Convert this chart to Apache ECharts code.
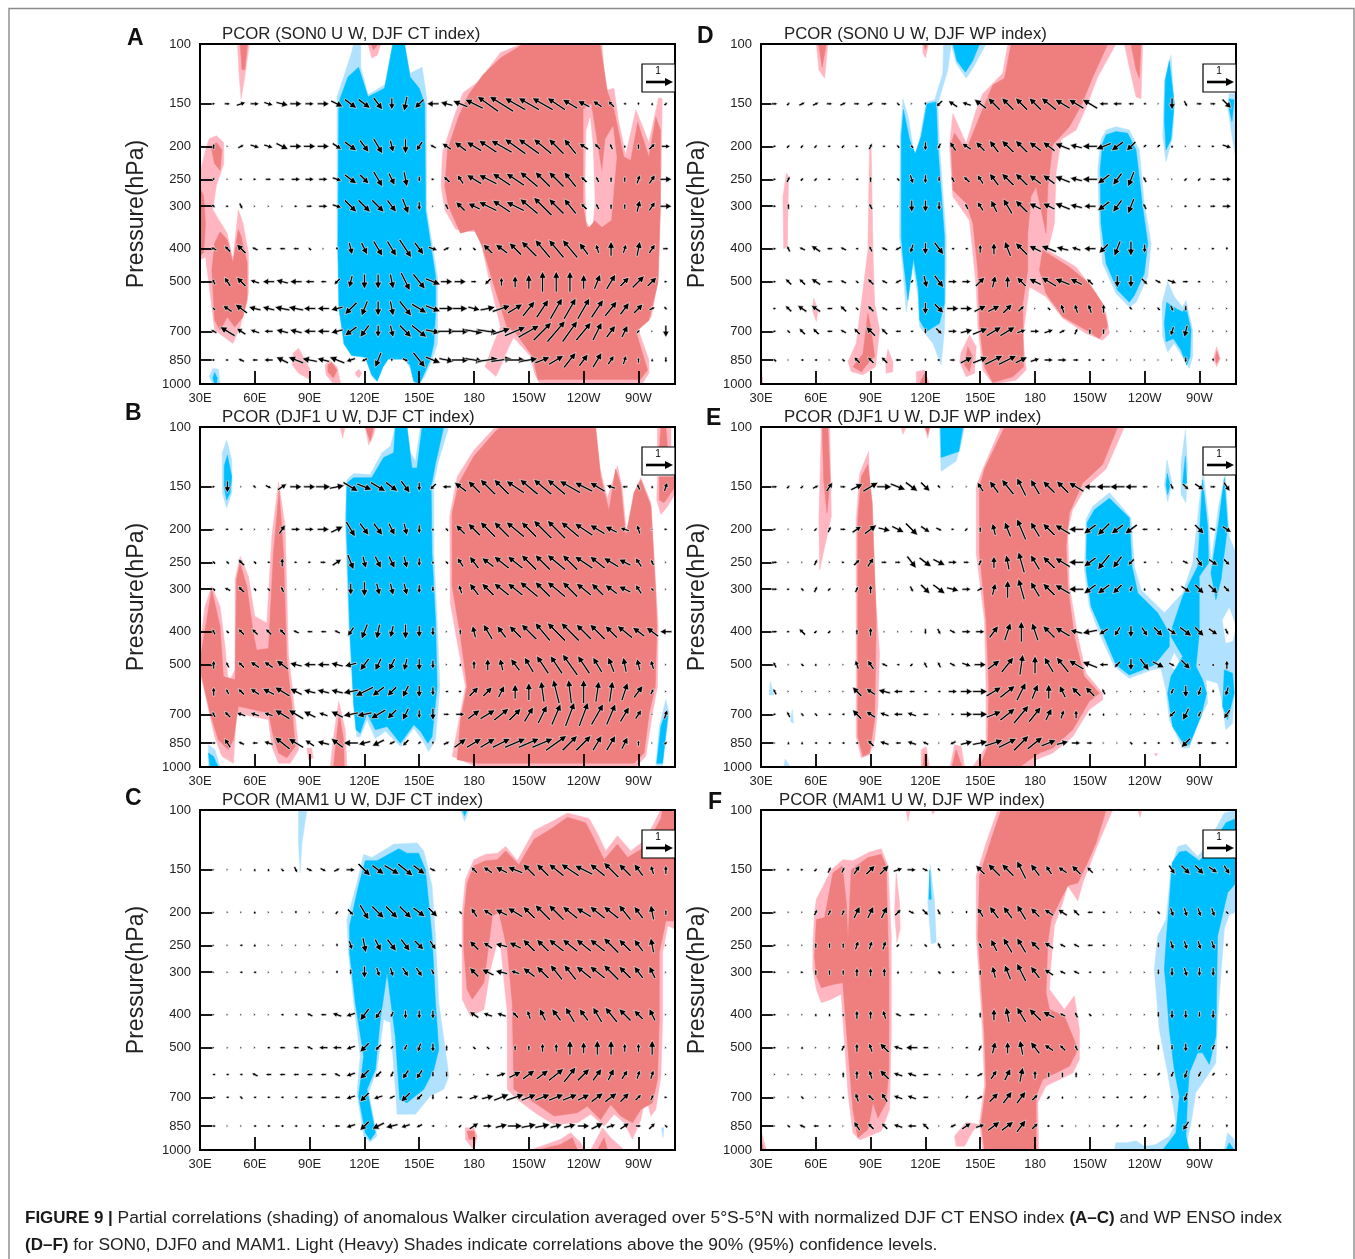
<!DOCTYPE html>
<html><head><meta charset="utf-8">
<style>html,body{margin:0;padding:0;background:#fff}#c{width:1355px;height:1259px}</style>
<script src="https://cdn.jsdelivr.net/npm/echarts@6/dist/echarts.min.js"></script>
</head><body><div id="c"></div>
<script>
const lons=[37.5,45,52.5,60,67.5,75,82.5,90,97.5,105,112.5,120,127.5,135,142.5,150,157.5,165,172.5,180,187.5,195,202.5,210,217.5,225,232.5,240,247.5,255,262.5,270,277.5,285];
const levels=[150,200,250,300,400,500,600,700,850];
const lonTicks=[30,60,90,120,150,180,210,240,270];
const lonTickLabels=['30E','60E','90E','120E','150E','180','150W','120W','90W'];
const pressureTicks=[100,150,200,250,300,400,500,700,850,1000];

// wind vectors: one row per level, flat u,w pairs per longitude (10 = reference vector)
const A_vec=[
[1,0,2,0,3,1,3,0,3,-1,4,-1,4,0,3,0,4,0,4,-2,4,-3,4,-3,3,-4,0,-4,-1,-5,-3,-3,-4,0,-4,1,-5,2,-6,3,-7,5,-8,5,-7,4,-7,4,-7,4,-6,4,-5,3,-4,2,-3,2,-2,2,-1,0,0,-1,0,1,1,1],
[0,2,0,0,2,1,3,-1,3,-1,4,-2,4,0,4,0,4,0,3,-2,4,-3,3,-4,3,-5,1,-4,0,-5,-2,-3,-2,1,-3,2,-4,3,-5,3,-6,4,-7,4,-7,5,-7,5,-6,5,-5,5,-4,5,-3,2,-2,2,-1,2,0,1,0,2,2,2,3,0],
[0,-1,0,0,1,0,1,0,2,0,2,0,3,0,3,0,3,0,3,-1,4,-3,3,-3,3,-5,2,-4,1,-5,0,-2,1,0,-2,2,-2,3,-5,3,-6,3,-6,4,-6,4,-6,5,-5,5,-5,5,-4,5,-2,2,-1,2,0,2,0,2,1,3,2,3,4,0],
[1,-1,1,0,1,-2,0,0,0,0,0,0,1,0,2,0,3,0,3,-1,4,-4,4,-4,4,-4,3,-4,2,-5,0,-3,0,0,-1,2,-3,3,-4,2,-6,3,-6,4,-6,3,-6,5,-6,6,-5,5,-4,5,-2,2,-1,2,0,2,0,2,1,4,2,3,4,0],
[-2,1,-2,2,-3,3,-2,1,-2,0,-2,0,-2,0,-1,1,0,0,0,-1,1,-4,2,-4,3,-5,3,-5,4,-6,3,-4,3,-1,2,1,0,1,-1,1,-3,3,-4,3,-4,4,-5,5,-5,6,-5,6,-5,6,-3,4,-1,3,0,5,1,3,1,5,2,3,2,0],
[-1,2,-2,3,-3,3,-3,1,-4,0,-4,1,-4,0,-3,0,-2,0,-2,-2,-1,-4,0,-5,0,-5,1,-5,3,-6,4,-5,5,-2,4,0,4,0,2,0,-2,-2,0,3,0,4,0,5,0,7,0,7,0,7,0,5,2,5,3,5,3,3,4,4,3,3,1,0],
[-1,1,-3,2,-4,3,-4,1,-4,1,-5,1,-5,1,-4,0,-4,0,-4,-1,-4,-4,-2,-5,0,-5,1,-5,4,-5,5,-3,5,-2,5,0,5,0,4,-1,5,1,6,2,5,3,4,5,4,6,4,7,4,7,4,7,4,6,4,5,3,4,3,3,2,1,1,-1],
[-2,1,-5,3,-3,2,-3,1,-3,0,-4,1,-4,1,-4,0,-4,0,-4,-1,-4,-3,-3,-4,0,-4,1,-4,4,-4,5,-4,5,-1,6,0,6,0,6,-1,7,-1,6,2,7,3,7,4,6,6,6,7,5,7,5,6,3,6,3,4,2,4,1,1,0,0,0,-4],
[1,0,1,0,-2,1,-2,0,-3,0,-4,2,-5,2,-5,1,-4,1,-5,2,-3,-1,-2,-1,-2,-5,0,-1,2,-1,4,-5,5,-2,5,-1,6,0,6,-1,7,1,7,1,7,0,6,1,5,2,5,3,4,5,3,4,3,5,2,3,1,3,0,2,0,1,0,-2]];
const B_vec=[
[1,0,0,-4,0,0,1,-1,2,-1,3,2,4,0,4,0,5,0,5,1,5,-3,5,-2,5,-3,4,-3,3,-4,0,-3,-2,-2,-3,0,-4,3,-4,4,-5,5,-5,5,-6,4,-6,5,-6,5,-6,5,-7,4,-6,3,-5,3,-3,1,-2,0,-1,2,0,1,1,3],
[0,0,1,0,-1,0,0,0,0,0,2,3,3,0,3,0,4,0,4,2,3,-5,3,-4,3,-4,2,-4,1,-4,0,-3,0,1,-1,1,-3,3,-4,4,-5,5,-5,5,-6,5,-5,5,-6,6,-6,6,-6,5,-6,4,-5,3,-4,2,-3,1,-1,3,0,0,1,0],
[-1,1,-1,1,-2,2,-1,1,-1,0,0,3,1,0,1,0,2,0,3,2,2,-5,1,-4,2,-4,2,-4,1,-4,0,-3,0,1,-1,1,-2,3,-3,4,-4,3,-5,4,-5,4,-5,5,-5,5,-6,5,-5,5,-6,4,-5,4,-5,3,-4,2,-2,3,-1,2,0,0],
[-1,1,-2,1,-2,2,-1,1,-1,1,-1,2,0,0,0,0,0,0,0,0,0,-4,0,-5,1,-4,1,-4,1,-4,0,-3,0,-2,0,0,-1,3,-3,4,-4,4,-5,4,-5,4,-6,5,-5,5,-6,5,-5,5,-5,4,-4,4,-4,3,-4,2,-2,3,-1,1,0,0],
[-1,2,-1,1,-2,2,-2,2,-2,2,-2,2,-2,1,-2,0,-2,0,-2,1,-2,-3,-2,-5,-1,-5,-1,-4,0,-5,0,-4,0,-3,0,0,0,2,-1,4,-3,5,-3,4,-4,4,-5,5,-5,6,-6,6,-6,6,-5,5,-5,5,-4,4,-5,4,-4,3,-4,3,-4,0],
[0,3,-1,2,-2,2,-3,2,-3,2,-4,3,-4,1,-4,0,-4,0,-4,1,-4,-1,-3,-4,-2,-4,-2,-4,-1,-4,0,-4,0,-3,0,0,0,1,0,3,0,4,-1,4,-3,4,-3,5,-4,6,-4,6,-5,7,-4,6,-3,5,-2,5,-1,5,-1,4,-1,3,0,0],
[0,3,-1,2,-2,2,-3,2,-4,2,-5,3,-4,2,-4,1,-4,1,-4,1,-5,-1,-6,-3,-4,-3,-3,-3,-2,-4,0,-4,0,-3,-1,0,1,0,3,3,3,3,2,4,0,5,0,6,-1,7,-2,8,-1,8,0,8,1,7,1,7,2,6,3,4,1,2,0,0],
[-1,2,-2,2,-3,1,-3,1,-3,1,-5,3,-5,3,-4,2,-3,1,-4,2,-5,-1,-5,-1,-5,-3,-3,-3,-2,-4,0,-3,0,-4,2,0,3,0,4,3,5,3,5,4,4,4,3,5,3,6,3,7,3,8,3,8,4,7,3,7,3,5,2,3,0,0,1,3],
[-1,0,-2,3,-2,1,-2,0,-3,1,-5,4,-5,3,-3,2,-4,1,-4,3,-5,0,-4,-1,-4,-2,-2,-1,-2,-2,-1,-1,0,-1,2,1,4,3,5,3,5,3,6,3,7,3,7,3,7,3,7,5,5,5,5,5,3,5,3,5,2,4,0,2,0,0,1,1]];
const C_vec=[
[0,0,0,0,0,0,0,1,0,1,-1,1,1,-2,2,-1,2,-1,2,1,3,0,4,-4,4,-3,5,-3,5,-4,4,-3,2,-1,0,0,0,0,-2,2,-3,2,-4,2,-5,2,-4,4,-4,4,-5,4,-6,4,-6,3,-5,4,-5,5,-4,4,-3,4,-1,3,0,3],
[0,0,0,0,0,0,0,1,0,0,0,0,0,-1,0,0,0,0,1,1,2,-2,3,-5,4,-4,4,-4,4,-4,4,-3,3,-3,0,0,-1,1,-2,3,-3,2,-4,2,-5,3,-4,4,-5,5,-5,5,-5,4,-5,3,-5,4,-5,4,-4,5,-3,4,-1,5,0,2],
[0,0,0,0,-1,0,0,1,0,0,0,0,0,0,0,0,0,0,0,-1,1,-3,1,-5,2,-4,3,-4,3,-4,3,-3,2,-3,0,0,-1,1,-3,3,-3,2,-4,1,-4,2,-4,4,-4,4,-5,4,-5,4,-5,4,-5,4,-5,5,-4,4,-3,4,-1,5,0,0],
[0,0,0,0,-1,0,-1,0,0,0,0,0,0,0,0,0,0,0,0,-1,0,-2,0,-4,1,-3,1,-3,2,-3,2,-3,1,-2,0,0,0,0,-3,3,-4,2,-4,1,-3,1,-4,3,-4,4,-4,5,-4,5,-5,4,-5,4,-5,5,-4,4,-3,4,-2,4,0,0],
[0,0,0,0,0,0,0,0,0,0,-1,0,-1,0,-2,1,-2,0,-3,1,-3,-1,-3,-4,-2,-3,-1,-2,0,-3,0,-3,0,-3,0,0,0,0,-3,2,-3,1,-3,1,-2,2,-1,3,-2,4,-3,4,-3,5,-3,4,-3,5,-4,5,-4,4,-3,3,-2,4,0,0],
[0,0,0,0,0,0,0,0,-1,0,-2,0,-2,0,-2,1,-3,0,-3,0,-3,-1,-3,-3,-2,-2,-1,-1,-1,-2,-1,-3,0,-3,0,2,0,0,-1,1,-1,1,0,0,0,2,0,2,0,3,0,3,0,5,0,4,0,5,0,5,0,3,0,3,0,5,0,0],
[-1,0,-1,0,-1,0,-2,1,-2,0,-2,0,-2,0,-2,0,-2,0,-2,1,-3,-1,-3,-3,-2,-2,-1,-2,-2,-3,-2,-3,0,-2,0,-2,0,0,0,0,1,0,3,1,4,2,4,3,4,3,5,4,4,5,4,4,3,4,2,4,2,3,1,3,1,3,0,0],
[-1,0,-1,0,-1,1,-1,0,-1,0,-1,0,-1,0,-2,0,-2,0,-2,0,-3,-1,-3,-3,-3,-1,-2,-1,-3,-3,-2,-2,0,-2,0,1,2,0,3,1,4,1,5,2,6,2,5,2,5,2,5,2,5,2,4,2,4,3,4,3,3,3,2,2,1,2,1,0],
[-1,0,0,0,0,0,-1,0,-1,0,-1,0,-1,0,-1,0,-1,0,-2,0,-3,-1,-3,-3,-4,-2,-4,-1,-3,-1,-2,-1,-1,0,0,0,1,1,3,2,3,0,4,1,5,0,5,1,5,1,4,1,4,1,4,0,4,2,3,1,3,2,2,0,2,2,-1,1]];
const D_vec=[
[2,0,1,1,2,1,2,1,2,0,2,1,2,0,2,1,2,0,-1,1,0,0,0,-1,-2,-2,-3,2,-3,1,-4,3,-4,4,-4,4,-4,4,-4,4,-5,4,-5,3,-5,3,-5,3,-3,0,-3,0,-2,0,-1,0,0,0,0,-4,1,-2,2,0,2,0,3,-3],
[1,0,1,1,1,1,1,1,1,0,1,1,1,0,1,2,1,0,-1,1,-1,1,0,-3,-1,-2,-2,3,-3,2,-3,3,-3,4,-4,4,-4,4,-4,3,-4,3,-5,2,-4,1,-5,0,-5,-2,-4,-3,-3,-3,-1,-1,-1,-1,0,1,0,0,1,0,1,0,3,-1],
[1,0,1,2,1,1,1,1,1,0,0,0,-1,0,0,2,0,0,-1,1,1,-3,0,-3,0,-2,-1,2,-2,2,-2,3,-3,4,-4,4,-4,4,-4,3,-4,3,-5,2,-4,1,-5,0,-4,-3,-3,-4,-2,-5,-1,2,0,0,0,0,1,1,1,1,2,0,3,0],
[1,0,0,2,0,0,0,0,0,0,0,0,0,0,-1,2,0,0,0,0,0,-4,0,-4,0,-3,0,0,-1,2,-2,3,-2,4,-3,5,-4,4,-4,2,-4,2,-5,2,-4,1,-4,0,-4,-3,-3,-4,-2,-5,-1,2,0,0,0,0,1,0,1,0,2,0,3,0],
[1,0,-1,2,-2,1,-3,2,-2,0,-2,1,-1,0,-1,2,-2,1,-2,-1,-1,-3,0,-4,3,-4,-1,0,-1,0,0,3,0,4,-2,5,-4,4,-4,2,-5,2,-4,1,-3,1,-4,0,-3,-3,-2,-5,0,-5,0,-3,0,0,0,0,1,0,0,0,1,0,0,-1],
[1,0,-2,2,-2,2,-3,2,-2,0,-2,1,-1,1,-2,2,-2,1,-2,-1,-1,-1,1,-4,3,-4,3,0,3,0,3,3,1,4,0,4,-3,3,-4,2,-5,3,-5,2,-4,2,-2,2,0,0,0,-4,0,-4,2,-2,2,-1,3,-1,2,0,1,0,0,0,0,0],
[1,0,-2,2,-3,2,-3,2,-2,0,-2,2,-1,1,-2,2,-2,1,-2,0,0,1,0,-4,3,-3,4,0,4,0,4,2,4,2,3,3,2,2,0,0,-1,1,-1,3,-1,3,-1,3,0,3,0,0,1,-1,0,0,-1,1,1,-2,0,-2,0,0,0,0,0,0],
[1,0,-1,1,-2,2,-2,2,-2,0,-2,1,-2,2,-3,3,-2,2,-2,0,-1,0,0,-2,2,-2,3,0,4,1,5,2,5,3,5,3,3,1,3,0,3,1,2,1,1,2,0,2,0,2,0,0,0,0,0,0,0,0,-1,-3,-1,-4,0,0,0,0,0,0],
[-1,1,0,0,-1,0,-1,0,0,0,-1,1,-2,2,-2,2,-2,2,-2,0,-1,0,0,-1,1,0,2,0,4,2,5,2,6,3,6,3,4,2,3,1,3,0,3,0,2,0,1,0,1,0,0,0,0,0,0,0,0,0,0,0,0,-2,0,0,0,-1,0,0]];
const E_vec=[
[2,0,1,1,1,1,2,1,2,3,2,0,4,2,5,3,5,0,5,-2,4,-3,3,-3,1,-1,0,0,0,0,-2,3,-3,4,-4,5,-3,6,-3,5,-4,4,-4,4,-5,3,-4,0,-5,0,-5,0,-4,0,-2,0,0,0,1,-2,2,-2,3,-2,2,0,2,-3],
[1,0,0,0,0,0,1,1,1,2,2,0,3,2,4,3,4,-1,4,-2,4,-4,3,-2,2,-1,1,0,1,1,0,2,-1,4,-2,5,-3,7,-3,5,-4,4,-5,3,-5,0,-4,-3,-4,-4,-4,-3,-4,-3,-2,0,-1,0,0,0,1,0,3,-3,2,-1,3,-2],
[2,0,0,0,0,0,1,2,0,0,1,0,2,2,2,3,2,0,2,0,3,-4,4,-3,4,-2,3,0,2,0,1,2,0,4,-1,5,-2,7,-3,5,-4,4,-5,3,-5,0,-4,-3,-4,-5,-3,-4,-2,-2,-1,0,0,0,0,0,2,-1,2,-3,3,-2,2,-2],
[2,0,1,0,-1,1,1,2,1,1,0,0,1,2,0,3,0,0,0,0,1,-2,3,-3,4,-3,4,-1,3,0,2,1,1,4,0,6,-2,7,-3,5,-4,4,-5,3,-5,0,-4,-3,-4,-3,-3,-3,-1,-2,0,1,-1,1,-1,1,3,-2,3,-3,3,-3,2,-2],
[2,0,1,0,-2,2,1,1,1,1,0,0,0,2,0,3,0,0,0,0,0,0,0,-2,1,-2,2,-1,3,0,3,0,3,4,2,6,0,7,-2,6,-4,4,-5,3,-4,1,-5,-1,-3,-2,-2,-3,0,-4,2,-3,3,-3,3,-2,4,-3,3,-3,3,-2,1,-2],
[-1,2,0,0,-1,1,0,1,0,0,0,0,-1,3,-2,3,-2,1,-1,0,1,1,-1,2,-1,2,2,-1,3,-1,4,0,4,3,4,5,1,7,0,6,-3,5,-4,5,-5,3,-5,2,-3,0,-2,-2,0,-4,3,-4,4,-2,2,-1,3,-3,0,0,0,1,0,3],
[-1,2,0,0,0,0,0,0,0,0,0,0,-3,3,-3,2,-4,1,-3,0,-2,0,-1,0,-1,0,3,0,4,0,5,0,5,3,5,4,3,6,2,5,0,5,-2,4,-3,3,-3,3,-1,2,0,0,0,0,0,0,0,0,-1,-2,0,-4,-1,-3,0,-1,-1,-3],
[1,0,-1,2,-1,1,-1,1,-1,0,-1,0,-3,3,-3,2,-3,1,-3,0,-3,1,-2,0,0,0,1,0,4,0,5,0,5,2,5,4,5,6,4,5,2,4,1,3,0,3,0,1,0,1,0,0,0,0,0,0,0,0,-2,-2,-2,-4,-1,-2,0,0,-2,-3],
[0,0,0,1,0,1,-1,0,-1,0,-1,0,-1,0,-2,2,-3,1,-2,0,-3,1,-2,1,0,0,-2,-1,4,1,5,1,6,2,6,3,5,5,5,4,5,2,4,1,3,0,2,0,0,0,0,0,-1,1,-1,0,-1,0,-1,0,-3,-3,-2,0,-2,0,-1,0]];
const F_vec=[
[1,0,1,0,1,0,1,1,1,2,1,2,2,3,3,3,3,3,3,1,3,0,2,-1,1,-1,0,0,0,0,-3,3,-4,4,-4,4,-3,6,-3,4,-2,3,-3,2,-3,3,-2,2,0,0,0,0,0,0,0,0,0,0,2,-3,3,-3,3,-3,3,-2,2,-3],
[1,0,0,0,0,0,1,2,1,2,1,2,2,4,2,4,2,4,2,2,2,-1,2,-2,1,-2,0,0,0,-1,-2,3,-3,4,-3,4,-3,5,-3,3,-3,2,-3,2,-2,2,-2,0,-1,0,0,0,0,0,0,0,-1,1,1,-3,1,-3,1,-3,1,-3,-1,1],
[1,0,0,0,0,0,0,2,0,2,0,2,1,3,1,3,1,3,1,1,0,0,-1,1,-1,2,-1,0,0,0,-1,2,-2,4,-3,5,-3,5,-3,3,-3,2,-2,1,-2,1,-2,0,-1,0,0,0,0,0,0,0,0,-2,1,-3,1,-3,1,-3,1,-3,0,-1],
[1,0,0,0,1,0,0,2,0,2,0,2,0,3,0,3,0,3,0,1,0,0,0,0,-1,1,-1,0,0,0,0,2,-1,4,-2,5,-3,6,-3,4,-3,2,-2,1,-2,1,-1,0,-1,0,0,0,0,0,0,0,0,-2,0,-3,1,-3,0,-3,0,-3,0,-1],
[1,0,0,0,0,0,0,1,0,1,0,1,0,3,0,3,-1,3,-2,1,-2,0,-1,0,0,0,0,0,0,0,0,2,0,4,-1,5,-3,5,-4,4,-4,2,-2,1,-1,2,-1,1,0,0,0,0,0,0,0,0,0,-2,0,-3,0,-3,0,-2,0,-3,0,0],
[1,0,0,0,0,1,0,0,0,0,1,2,0,3,-1,3,-3,3,-3,1,-4,0,-2,0,0,0,0,0,-1,0,1,2,1,4,0,4,-1,5,-3,4,-3,2,-2,2,-1,2,0,0,0,0,0,0,0,0,0,0,0,-2,0,-2,0,-3,-1,-2,-1,-2,0,-1],
[0,0,0,0,0,0,0,0,0,0,0,2,0,3,-1,3,-3,3,-3,1,-3,1,-2,0,-1,0,0,0,-1,0,2,1,2,3,2,4,1,5,0,3,0,2,0,2,0,2,0,0,0,0,0,0,0,0,-1,0,-1,-1,-1,-2,-1,-3,-1,-2,-1,-1,0,0],
[0,0,0,0,-1,1,0,0,0,0,0,1,-1,3,-2,2,-2,3,-3,1,-3,1,-2,0,0,0,0,0,-1,-1,2,1,3,3,3,4,3,4,2,2,1,1,0,1,0,0,0,0,-1,0,-1,0,-1,0,-1,-1,0,0,0,-1,-1,-3,0,0,0,0,0,0],
[0,0,-1,1,-2,1,-2,0,-1,0,0,0,-2,3,-2,2,-2,2,-3,1,-3,0,-2,2,0,0,-2,-1,3,2,3,1,4,3,4,3,3,4,2,2,1,0,1,0,0,0,0,0,-1,0,-1,-1,-1,0,-1,-1,0,0,-1,-1,-2,-3,0,-1,0,0,0,-1]];

// significance shading outlines as [longitude, pressure] vertices
const A_pink=[
[[30,240],[33,205],[35,190],[39,186],[43,195],[43,225],[39,260],[37,307],[44.8,360],[48,431],[51,307],[53.5,336],[56.5,412],[56.5,541],[52,680],[48,760],[38,694],[35.5,541],[33,423],[30,431]],
[[50.5,100],[57,100],[54.5,125],[52.5,145],[51.5,125]],
[[122,100],[129,100],[127,108],[124,110]],
[[84,785],[90,900],[90,970],[84,930],[80.5,880],[81,810]],
[[101,850],[105,890],[107,1000],[103,1000],[99,940],[98.5,880]],
[[115,925],[117,905],[118.5,930],[117,960],[115.5,945]],
[[206,100],[250,100],[252,137],[256.6,135],[259,167],[263,212],[268.6,156],[275.7,195],[281,144],[283,145],[282.6,210],[282,300],[281,485],[277,635],[274,660],[270,694],[275.7,850],[275.7,930],[272,1000],[216,1000],[213,930],[211,830],[201.6,730],[199,780],[194.5,890],[192,950],[186,890],[190.7,760],[194.5,680],[188,485],[183.5,377],[181,357],[170,351],[164,307],[162,263],[162.7,209],[169,164],[174,139],[182.5,129],[194.5,106]]];
const A_red=[
[[41,357],[38,385],[36.5,462],[38,650],[41,694],[45,635],[49,680],[53.5,635],[55.8,566],[55.8,440],[52.5,368],[51,351],[48,440],[45,377]],
[[36,200],[39,195],[42,205],[41,235],[38,225]],
[[30,265],[32,280],[33,340],[32,410],[30,420]],
[[52,100],[56,100],[54.5,119],[53,119]],
[[123.5,100],[127.5,100],[125,104]],
[[100,880],[102,865],[105,910],[103,960],[100,920]],
[[207,100],[249,100],[253,138],[256.6,156],[262,215],[265.8,220],[269.6,170],[275.7,215],[279.5,164],[282,179],[282,300],[280.6,505],[275.7,650],[268.6,700],[273,840],[275,910],[271,970],[215,970],[212,830],[202.7,705],[198,680],[190,495],[184.6,395],[180,351],[172.6,360],[166,300],[164,263],[165.5,205],[171.5,164],[177,141],[185,123],[194.5,110]]];
const A_pink2=[[[240,155],[244,150],[247,190],[250,240],[252,190],[256,175],[258,215],[255,330],[250,345],[246,330],[242,345],[240,300]]];
const A_white=[[[241.5,180],[243.5,165],[245,200],[246,290],[245,335],[243,345],[241.5,330],[241,250]]];
const A_sky=[
[[105,143],[113,106],[114,100],[118,100],[118,117],[122,141],[133,130],[136,100],[141.5,100],[145,122],[151.6,117],[154,143],[154,305],[160,485],[160,605],[160,760],[157,850],[153,950],[150,1000],[147,990],[145,900],[141.5,830],[132.5,830],[130,890],[127,985],[124,950],[120.5,830],[114,810],[108.4,760],[105,390]],
[[35,950],[37,900],[40,905],[41,1000],[37,1000]]];
const A_blue=[
[[106,148],[111,125],[116.8,117],[122,143],[131,135],[135.5,100],[142,100],[145,125],[150,135],[153,150],[153.5,310],[159,485],[159,605],[158,760],[156,850],[152,950],[150,1000],[147,980],[145,880],[141.5,845],[133,845],[130,895],[127,980],[124,940],[120.5,835],[113,825],[109,765],[106,600],[105.5,400]],
[[37,960],[38,925],[39.5,960],[39,1000],[38,1000]]];

const B_pink=[
[[30,442],[32.7,337],[36.4,294],[41,337],[43.7,442],[45.5,566],[49.2,518],[49.2,281],[52,240],[56.5,275],[60,360],[66.6,377],[69.3,210],[73,145],[76.6,196],[78.4,463],[81,620],[84,890],[79.4,975],[73,975],[69.3,870],[67.5,726],[50,694],[48.3,975],[42,930],[38,815],[31.8,578],[30,530]],
[[88.5,880],[91,880],[92,940],[89.4,952]],
[[105.9,641],[109.5,777],[110.4,1000],[101.3,1000],[103.1,815]],
[[106.8,100],[109.5,100],[108,108]],
[[120.5,100],[126,100],[125,106],[122.3,113]],
[[246,100],[249,133],[253,162],[258.5,130],[261,150],[264,219],[267.6,156],[271.3,141],[276.8,167],[279.5,294],[280.8,386],[280.4,580],[277.7,694],[274,930],[268.6,1000],[181.7,1000],[168,930],[170.8,777],[175.3,580],[172.6,484],[167,330],[166.7,183],[170.8,140],[179.9,117],[190.9,101],[194.5,100]],
[[280.4,100],[287.8,100],[287.8,117],[280.4,117]],
[[280.4,140],[290,140],[290,158],[286,171],[282.3,181],[280,164]]];
const B_red=[
[[30,484],[33.7,369],[36.4,300],[41,386],[42.8,542],[49.2,554],[50,281],[51.9,251],[55.6,294],[59.2,404],[61,453],[67.5,448],[70.2,235],[73.3,154],[75.7,235],[77.5,484],[80.3,663],[82.1,870],[77.5,940],[73,910],[70.2,815],[67.5,694],[51,663],[48.3,832],[45.5,890],[40,832],[35.5,694],[31,542]],
[[106.2,694],[108.6,832],[109,1000],[103.1,1000],[104.6,832]],
[[120.5,100],[125,100],[123.2,110]],
[[246.6,100],[249.3,140],[253.9,176],[257.5,133],[260.3,148],[263,210],[267.6,156],[271.3,143],[276.8,171],[279.2,294],[280.1,386],[279.2,580],[275.9,694],[273.1,910],[267.6,975],[181.7,975],[170.8,952],[172.6,726],[176.2,580],[172.6,413],[168,294],[168,179],[171.7,146],[179.9,122],[191.8,103],[194.5,100]],
[[282.3,100],[285,100],[286,117],[281.4,117]],
[[281.4,140],[290,140],[290,150],[284,167],[281.4,164]]];
const B_sky=[
[[109.5,187],[110.4,143],[114,137],[123.2,138],[129.6,119],[134.2,114],[136.9,100],[143.3,100],[145.2,119],[147.9,126],[150.7,100],[166.2,100],[160.7,125],[158,146],[158,235],[159.8,369],[161.3,580],[158.9,832],[155.2,900],[151.6,832],[147,768],[139.7,870],[131.5,785],[126,825],[121.4,726],[117.7,815],[115.9,815],[114.1,663],[111.3,369]],
[[285,634],[286.8,694],[284,910],[283.2,990],[279.5,990],[281.4,760]],
[[34.6,860],[38.2,890],[41,1000],[34.6,1000]],
[[44.6,109],[47.4,125],[47.4,156],[44.6,173],[42.2,156],[42.2,119]]];
const B_blue=[
[[110,187],[110.4,146],[114,141],[124,141],[130.5,123],[136,119],[136.9,100],[143.3,100],[146,132],[148.8,132],[151.6,100],[163.4,100],[158.9,128],[156.5,150],[157,235],[158.9,369],[159.8,580],[157,815],[154.7,851],[150.7,785],[147,751],[139.7,851],[132.4,760],[126,777],[121.4,694],[117.7,795],[115.4,777],[114.1,648],[111.9,386]],
[[285,687],[286,711],[283.2,975],[280,975],[282.3,760]],
[[34.6,910],[37.3,930],[40,1000],[35.5,1000]],
[[45,121],[47.4,140],[46.5,156],[44.6,164],[43.2,150],[43.3,130]]];

const C_pink=[
[[173.5,200],[175.3,160],[179.9,140],[186.3,135],[192.7,134],[197.3,128],[203.7,141],[212.8,115],[222.9,108],[231.1,102],[243,106],[247.5,117],[252.1,132],[258.5,119],[265.8,132],[274,122],[281.4,102],[282.3,100],[290,100],[290,224],[286,219],[283.2,263],[283.2,413],[282.3,607],[279.5,760],[276.8,795],[274,694],[271.3,815],[266.7,930],[262.2,832],[256.7,785],[251.2,851],[243.9,785],[236.6,832],[223.8,842],[214.6,785],[203.7,710],[198.2,663],[198.2,395],[194.5,251],[192.7,245],[189,294],[185.4,386],[178,404],[173.5,360]],
[[175.3,860],[179.9,860],[181.7,910],[179.9,1000],[175.3,930]],
[[211,1000],[216.6,975],[227.4,930],[232.9,890],[238.4,952],[240.2,1000]],
[[243.9,1000],[250.3,860],[254.8,920],[262.2,1000]]];
const C_red=[
[[174.4,205],[176.2,164],[179.9,146],[186.3,141],[192.7,140],[197.3,132],[204.6,145],[212.8,122],[222.9,113],[231.1,105],[241.1,109],[244.8,119],[251.2,140],[258.5,126],[264,138],[274,128],[282.3,106],[283.2,100],[290,100],[290,212],[285,212],[281.4,263],[281.4,413],[280.4,620],[277.7,726],[271.3,760],[266.7,832],[260.3,795],[254.8,735],[249.3,815],[242,743],[236.6,777],[223.8,795],[214.6,735],[207.3,694],[201.8,663],[200.9,369],[198.2,257],[193.6,200],[190,205],[185.4,322],[179,360],[176.2,337],[174.4,257]],
[[176.2,880],[179.9,880],[180.8,930],[177.2,930]],
[[214.6,1000],[227.4,963],[233.8,920],[236.6,1000]],
[[247.5,1000],[251.2,920],[253,1000]]];
const C_sky=[
[[83.9,100],[88.5,100],[85.8,125],[84.8,153],[83.9,125]],
[[172.6,100],[177.2,100],[174.8,108]],
[[110.4,210],[115.9,164],[119.6,135],[124.1,138],[136,126],[148.8,125],[152.5,132],[157,167],[158.9,235],[160.7,369],[165.3,554],[166.2,607],[163.4,663],[156.1,694],[147.9,785],[137.9,785],[136.9,663],[134.2,422],[130.5,413],[126.9,580],[122.3,678],[126.9,910],[123.2,948],[119.6,910],[115.9,678],[117.7,530],[114.1,369],[111.3,263]],
[[282.6,860],[284,860],[283.4,920]]];
const C_blue=[
[[111.9,219],[116.8,167],[120.5,141],[126.9,141],[138.8,130],[143.3,134],[149.7,134],[153.4,150],[157,235],[158.9,369],[160.7,506],[158,580],[152.5,663],[143.3,726],[139.3,710],[136.9,463],[132.4,301],[128.7,413],[126,580],[121.4,663],[126,890],[123.2,935],[120.5,890],[116.8,694],[119.6,530],[115,369],[111.9,263]],
[[173.6,100],[176.2,100],[174.8,104]]];

const D_pink=[
[[60.3,100],[66.6,100],[64.8,126],[61.7,119]],
[[118.6,100],[121.7,100],[120,110],[118.6,106]],
[[165.1,100],[224.3,100],[214.3,125],[207.9,154],[202.5,179],[194.3,191],[191.5,240],[190.6,337],[187,404],[202.5,453],[213.4,542],[218.9,620],[220.7,710],[217,743],[207.9,710],[195.2,641],[186,554],[176.9,518],[173.3,726],[175.1,910],[169.6,975],[156.9,1000],[151.4,910],[148.7,678],[147.8,518],[144.1,330],[135,281],[133.2,200],[135,160],[142.3,196],[147.8,156],[151.4,140],[162.3,122]],
[[43.9,240],[45.1,245],[44.4,395],[42.4,400],[42,281]],
[[89.4,200],[90.3,200],[91.3,404],[92.2,580],[94.9,694],[92.7,890],[85.8,940],[79.4,920],[77.6,860],[82.1,760],[84.9,580],[88.5,404]],
[[58.8,560],[61.2,607],[60.3,655],[58.1,607]],
[[99.5,790],[102.2,860],[102.2,920],[98.5,930],[98.2,860]],
[[144.1,718],[147.8,777],[146.9,930],[142.3,952],[138.7,860],[139.6,805]],
[[115,1000],[115,920],[119.5,910],[122.2,1000]],
[[30,880],[31,1000],[30,1000]],
[[228.9,100],[238.9,100],[238,145],[235.3,143],[231.6,117]],
[[279.4,777],[281.4,842],[279.4,890],[277.6,842]]];
const D_red=[
[[166.9,100],[219.8,100],[211.6,125],[205.2,152],[198.8,175],[189.7,198],[187,263],[186,360],[180.6,263],[177.8,281],[176,360],[176,463],[173.3,580],[173.7,890],[167.8,952],[156.9,990],[152.3,890],[149.6,678],[148.7,463],[146,337],[142.3,294],[135,269],[134.1,196],[135.9,183],[142.3,205],[149.6,164],[156.9,132],[163.3,126]],
[[184.2,404],[198.8,453],[209.7,506],[217,580],[219.8,678],[215.2,735],[207.9,694],[195.2,634],[186,542],[182.4,463]],
[[61.5,100],[65.7,100],[63.5,117]],
[[119.1,100],[120.8,100],[120,104]],
[[88.5,620],[90.3,694],[92.2,832],[88.5,870],[84.9,920],[80.3,890],[85.8,815]],
[[143.2,777],[145.9,832],[144.1,920],[141.4,880]],
[[116.8,1000],[119.5,930],[120.8,1000]],
[[232.5,100],[238,100],[237.1,126],[235.3,119]],
[[279.4,800],[280.8,842],[279.4,870],[278.7,842]]];
const D_sky=[
[[107.7,145],[110.9,167],[114.4,222],[117.7,179],[120.4,148],[125,146],[129.5,122],[129.9,100],[134.1,100],[132.3,119],[126.8,150],[127.7,200],[131.4,369],[131.4,463],[130.4,694],[128.6,880],[124.1,760],[116.8,678],[115.9,554],[113.1,442],[109.5,615],[107.7,463],[105.8,369],[106.2,187]],
[[134.1,100],[153.2,100],[145.9,118],[142.3,126],[136.8,114]],
[[254.4,108],[256.2,150],[255.3,187],[251.7,222],[249.9,187],[250.8,128]],
[[286.3,140],[290,140],[290,219],[288.1,191],[285.4,153]],
[[218.9,179],[224.3,175],[231.6,179],[237.1,205],[239.8,294],[243.5,386],[241.7,484],[235.3,575],[231.6,594],[224.3,542],[217,442],[215.2,337],[214.3,235],[216.1,191]],
[[252.6,500],[256.2,554],[260.8,594],[262.6,567],[266.3,694],[266.3,832],[264.4,900],[260.8,832],[256.2,760],[252.6,805],[249.9,726],[249.5,580]]];
const D_blue=[
[[108,156],[111.3,191],[114.4,210],[117.7,187],[120.8,150],[125.9,148],[126.8,200],[130.4,369],[130.4,580],[127.7,663],[120.4,702],[116.8,648],[116.2,530],[113.5,426],[110.4,567],[107.7,422],[106.8,369],[106.8,187]],
[[135,100],[149.6,100],[145.9,112],[141.9,121],[137.2,112]],
[[253.5,112],[256.2,150],[254.4,191],[251.7,205],[250.8,167],[251.3,128]],
[[286.3,145],[289,146],[287.8,169],[286,153]],
[[218.9,185],[224.3,181],[230.7,183],[235.3,205],[238.9,301],[241.7,386],[239.8,473],[234.4,548],[231.6,575],[225.2,530],[218.9,442],[216.1,337],[215.6,235],[217,196]],
[[252,575],[255.7,594],[260.8,614],[262.6,594],[265.4,694],[264.8,832],[263,880],[259.9,795],[255.7,735],[251.7,751],[250.8,663]]];

const E_pink=[
[[63,100],[67.6,100],[68.5,183],[62.1,263],[61.7,187]],
[[88.9,118],[90.9,235],[94.9,463],[94,663],[92.2,832],[89.4,920],[84.9,940],[82.1,815],[82.1,187],[84,137]],
[[161.4,100],[228.9,100],[218.9,133],[207.9,150],[200.6,175],[197.9,201],[198.8,294],[203.4,413],[207.9,530],[217,607],[217,634],[209.7,678],[200.6,815],[189.7,910],[180.6,952],[178.8,1000],[145.9,1000],[153.2,870],[153.2,580],[152.3,369],[147.8,235],[147.8,150],[151.4,133]],
[[106.7,100],[109.5,100],[107.7,105]],
[[119.5,100],[122.6,100],[121.3,108]],
[[117.7,1000],[117.7,890],[120.4,870],[122.2,1000]],
[[133.5,1000],[135.9,860],[139.6,870],[141.4,1000]],
[[245.3,913],[247.1,913],[246.2,930]]];
const E_red=[
[[63.5,100],[66.6,100],[67.9,143],[66.1,179],[64.3,143]],
[[88.5,129],[90.9,167],[93.1,369],[92.2,726],[89.4,910],[85.8,930],[83,815],[83,187],[84.9,140]],
[[163.3,100],[225.2,100],[217,129],[206.1,146],[198.8,179],[197,224],[197.9,294],[201.5,413],[207,542],[215.2,607],[209.7,641],[200.6,777],[189.7,880],[182.4,910],[171.5,1000],[149.6,1000],[154.1,870],[154.7,580],[153.2,369],[149.6,235],[149.6,150],[152.3,133]],
[[119.9,100],[122.2,100],[121.3,105]],
[[118.6,1000],[119.5,910],[121.3,1000]],
[[134.5,1000],[136.8,890],[140.1,1000]]];
const E_sky=[
[[207.9,187],[211.6,171],[220.7,156],[232.5,185],[234.4,257],[238,301],[250.8,352],[260.8,308],[266.3,251],[269.9,167],[272.1,135],[275,187],[276.3,251],[280.5,171],[284.1,138],[286.3,210],[290,235],[290,484],[288.1,743],[284.5,777],[281.8,620],[279.9,567],[273.6,554],[274.5,648],[269.9,726],[264.4,880],[260.8,880],[253.5,726],[251.7,594],[248.9,513],[244.4,518],[238.9,530],[231.6,548],[223.4,506],[215.2,404],[209.7,337],[207,263]],
[[127.7,100],[141.4,100],[139.6,112],[136.8,126],[128.6,135]],
[[252.2,125],[255,146],[252.6,166],[250.8,148]],
[[262.3,102],[263.5,130],[262.6,167],[259.9,158],[259.9,128]],
[[35.1,560],[37,614],[34.4,614]],
[[43.3,948],[46,1000],[42.4,1000]],
[[47.1,678],[47.8,743],[46.2,735]]];
const E_white=[
[[256.2,463],[253.5,500],[258,525],[259.9,500]],
[[282.7,369],[286.3,341],[290,386],[288.1,426],[284.5,431]]];
const E_blue=[
[[208.5,191],[212.5,175],[220.7,162],[231.6,185],[233.1,257],[236.2,308],[247.1,352],[253.5,404],[253.5,442],[245.3,500],[238.9,518],[231.6,536],[224.3,500],[217,404],[210.7,337],[207.9,263]],
[[260.8,315],[269,257],[271.7,143],[274.5,196],[275,251],[269.9,275],[269.9,404],[268.1,506],[271.7,554],[273.9,607],[270.8,710],[264.4,860],[261.7,860],[255.3,760],[252.6,607],[254.4,542],[260.8,473],[254.4,413],[255.3,386]],
[[283.6,141],[285.4,196],[281.8,281],[279,322],[276.3,269],[280.5,191]],
[[283.6,518],[288.1,530],[289,607],[285.4,726],[282.7,663]],
[[252.4,137],[253.9,148],[252.6,158],[251.7,148]],
[[262.3,122],[263,146],[261.2,148],[260.8,146]],
[[128.3,100],[140.5,100],[138.3,118],[132.3,121],[128.6,123]]];

const F_pink=[
[[58.4,251],[59.3,200],[60.3,183],[68.5,150],[74.8,140],[80.3,141],[89.4,133],[95.8,130],[99.5,146],[101.3,235],[101.3,463],[100.4,760],[95.8,880],[84,935],[80.3,890],[77.6,678],[74.8,413],[73.9,348],[68.5,360],[63,369],[60.3,337],[58.4,294]],
[[104,153],[105.8,187],[106.2,224],[104.4,245],[103.1,200]],
[[109.5,100],[111.7,100],[110.4,108]],
[[123.2,100],[125.5,100],[124,103]],
[[236.2,100],[238.4,100],[237.5,105]],
[[159.6,100],[222.5,100],[217,117],[213.4,130],[206.1,164],[203.4,185],[197.9,167],[195.2,187],[190.6,219],[188.8,281],[187.9,337],[196.1,386],[201.5,352],[204.3,442],[204.3,542],[200.6,594],[186,648],[181.5,726],[182,1000],[151.4,1000],[149.6,832],[152.3,648],[151.4,463],[149.6,322],[147.8,235],[147.8,156],[153.2,125]],
[[142.3,828],[149.6,842],[145.9,880],[141.4,975],[136.8,975],[135.9,910]],
[[30,880],[32.9,1000],[30,1000]]];
const F_red=[
[[59.3,269],[60.3,210],[64.8,207],[69.4,153],[74.5,146],[76.7,187],[77.6,240],[79.4,150],[88.5,138],[95.8,135],[98.5,146],[100,294],[100,580],[98.5,726],[94,805],[91.3,726],[88.5,870],[83,920],[80.3,760],[76.7,442],[74.8,322],[69.4,326],[63,333],[60.3,308]],
[[161.4,100],[218.9,100],[213.4,125],[207.9,146],[203.4,164],[197.9,167],[193.3,187],[188.8,210],[187,245],[186,345],[187.9,386],[196.1,404],[200.6,463],[203.4,506],[198.8,567],[184.2,620],[180.6,694],[180.6,1000],[152.3,1000],[150.5,832],[153.2,648],[152.3,463],[150.5,322],[148.7,235],[149.6,156],[156,122]],
[[30,930],[31.5,1000],[30,1000]]];
const F_sky=[
[[258.1,128],[262.6,126],[269,137],[273.6,128],[283.6,102],[290,100],[290,200],[286.3,203],[283.6,224],[279.9,413],[279,554],[275.4,594],[268,678],[265.4,832],[262.6,975],[266.3,1000],[223.4,1000],[224.3,952],[229.8,952],[235.3,940],[239.8,975],[246.2,963],[253.5,910],[257.1,832],[252.6,594],[248,442],[245.3,294],[247.1,235],[251.7,210],[254.4,150]],
[[122.6,145],[125,187],[125.9,245],[123.2,248],[121.3,187]],
[[285.4,890],[289,930],[290,1000],[283.6,1000]]];
const F_blue=[
[[259,133],[262.6,132],[269.9,141],[273.6,135],[284.5,109],[290,106],[290,164],[285.4,175],[279.9,235],[279,463],[275.4,560],[271.7,518],[269,518],[264.4,594],[263.5,694],[262.6,910],[264.4,1000],[249.9,1000],[257.1,890],[259,694],[256.2,580],[253.5,442],[251.7,330],[250.8,294],[251.7,245],[253.5,187],[255,143]],
[[122.4,150],[123.2,183],[121.9,183]],
[[286.3,952],[289,1000],[284.5,1000]]];

const panelTitles=['PCOR (SON0 U W, DJF CT index)','PCOR (DJF1 U W, DJF CT index)','PCOR (MAM1 U W, DJF CT index)','PCOR (SON0 U W, DJF WP index)','PCOR (DJF1 U W, DJF WP index)','PCOR (MAM1 U W, DJF WP index)'];
const panelLetters=['A','B','C','D','E','F'];

const COL={pink:'#FFB6C1',red:'#EF7F7F',sky:'#B0E2FF',blue:'#00BFFF',white:'#ffffff'};
const layout=[
 {l:200,t:44,tx:222,lx:127,ly:27},{l:200,t:427,tx:222,lx:125,ly:402},{l:200,t:810,tx:222,lx:125,ly:787},
 {l:761,t:44,tx:784,lx:697,ly:25},{l:761,t:427,tx:784,lx:706,ly:407},{l:761,t:810,tx:779,lx:708,ly:791}];
const W=475,H=340;
const panels=[
 {vec:A_vec,layers:[['pink',A_pink],['red',A_red],['sky',A_sky],['pink',A_pink2],['white',A_white],['blue',A_blue]]},
 {vec:B_vec,layers:[['pink',B_pink],['red',B_red],['sky',B_sky],['blue',B_blue]]},
 {vec:C_vec,layers:[['pink',C_pink],['red',C_red],['sky',C_sky],['blue',C_blue]]},
 {vec:D_vec,layers:[['pink',D_pink],['red',D_red],['sky',D_sky],['blue',D_blue]]},
 {vec:E_vec,layers:[['pink',E_pink],['red',E_red],['sky',E_sky],['white',E_white],['blue',E_blue]]},
 {vec:F_vec,layers:[['pink',F_pink],['red',F_red],['sky',F_sky],['blue',F_blue]]}];

const FONT='"Liberation Sans",Arial,sans-serif';
const grids=[],xAxes=[],yAxes=[],series=[],titles=[],graphics=[];

function arrowPoints(cx,cy,u,w){
  const m=Math.hypot(u,w);
  const dx=m?u/m:1, dy=m?-w/m:0;
  const L=m?Math.max(m*3,3.4):2;
  const h=Math.min(7,Math.max(2.2,L*0.5)), hw=Math.min(3.6,Math.max(1.5,h*0.55)), sw=m?1:1;
  const nx=-dy, ny=dx;
  const tx=cx+dx*L/2, ty=cy+dy*L/2, bx=cx-dx*L/2, by=cy-dy*L/2;
  const kx=tx-dx*h, ky=ty-dy*h;
  return [[bx+nx*sw,by+ny*sw],[kx+nx*sw,ky+ny*sw],[kx+nx*hw,ky+ny*hw],[tx,ty],[kx-nx*hw,ky-ny*hw],[kx-nx*sw,ky-ny*sw],[bx-nx*sw,by-ny*sw]];
}

panels.forEach((p,i)=>{
  const g=layout[i];
  grids.push({left:g.l,top:g.t,width:W,height:H,show:false});
  xAxes.push({gridIndex:i,type:'value',min:30,max:290,z:5,splitLine:{show:false},
    axisLine:{show:false},
    axisTick:{show:true,inside:true,length:13,customValues:lonTicks,lineStyle:{color:'#000',width:1.8}},
    axisLabel:{customValues:lonTicks,formatter:v=>lonTickLabels[lonTicks.indexOf(v)],color:'#222',fontFamily:FONT,fontSize:13,margin:8}});
  const logTicks=pressureTicks.map(v=>Math.log10(v));
  yAxes.push({gridIndex:i,type:'value',min:2,max:3,inverse:true,z:5,splitLine:{show:false},
    name:'Pressure(hPa)',nameLocation:'middle',nameGap:52,nameTextStyle:{fontFamily:FONT,fontSize:23,color:'#222'},
    axisLine:{show:false},
    axisTick:{show:true,inside:true,length:13,customValues:logTicks,lineStyle:{color:'#000',width:1.8}},
    axisLabel:{customValues:logTicks,formatter:v=>String(Math.round(Math.pow(10,v))),color:'#222',fontFamily:FONT,fontSize:13,margin:9}});
  const polys=[];
  p.layers.forEach(([c,arr])=>arr.forEach(poly=>polys.push({c,poly})));
  series.push({type:'custom',xAxisIndex:i,yAxisIndex:i,z:1,silent:true,clip:true,animation:false,
    data:polys.map((_,k)=>[k]),
    renderItem:(params,api)=>{
      const it=polys[api.value(0)];
      return {type:'polygon',shape:{points:it.poly.map(v=>api.coord([v[0],Math.log10(v[1])]))},style:{fill:COL[it.c],stroke:COL[it.c],lineWidth:0.5}};
    }});
  const pts=[];
  p.vec.forEach((row,r)=>{
    lons.forEach((lon,k)=>{
      pts.push([lon,Math.log10(levels[r]),row[2*k],row[2*k+1]]);
    });
  });
  series.push({type:'custom',xAxisIndex:i,yAxisIndex:i,z:6,silent:true,clip:false,animation:false,
    data:pts,
    renderItem:(params,api)=>{
      const c=api.coord([api.value(0),api.value(1)]);
      return {type:'polygon',shape:{points:arrowPoints(c[0],c[1],api.value(2),api.value(3))},style:{fill:'#000',stroke:'#fff',lineWidth:0.6}};
    }});
  titles.push({text:panelTitles[i],left:g.tx,top:g.t-18,padding:0,textStyle:{fontFamily:FONT,fontWeight:'normal',fontSize:16.8,color:'#222'}});
  titles.push({text:panelLetters[i],left:g.lx,top:g.ly,padding:0,textStyle:{fontFamily:FONT,fontWeight:'bold',fontSize:23,color:'#111'}});
  graphics.push({type:'rect',z:100,silent:true,shape:{x:g.l,y:g.t,width:W,height:H},style:{fill:null,stroke:'#000',lineWidth:2}});
  const bx=g.l+W-33,by=g.t+20;
  graphics.push({type:'rect',z:101,silent:true,shape:{x:bx,y:by,width:33,height:28},style:{fill:'#fff',stroke:'#000',lineWidth:1.2}});
  graphics.push({type:'line',z:102,silent:true,shape:{x1:bx+4,y1:by+18,x2:bx+25,y2:by+18},style:{stroke:'#000',lineWidth:2.6}});
  graphics.push({type:'polygon',z:102,silent:true,shape:{points:[[bx+31,by+18],[bx+23,by+14],[bx+23,by+22]]},style:{fill:'#000'}});
  graphics.push({type:'text',z:102,silent:true,style:{x:bx+16,y:by+7,text:'1',fontFamily:FONT,fontSize:10,fill:'#000',textAlign:'center',textVerticalAlign:'middle'}});
});

graphics.push({type:'polyline',z:0,silent:true,shape:{points:[[9,1259],[9,8.5],[1354,8.5],[1354,1259]]},style:{stroke:'#8a8a8a',lineWidth:1.4,fill:null}});
const capRich={b:{fontFamily:FONT,fontWeight:'bold',fontSize:17,fill:'#1a1a1a'},r:{fontFamily:FONT,fontSize:17.4,fill:'#222'}};
graphics.push({type:'text',z:5,silent:true,style:{x:25,y:1218,textVerticalAlign:'middle',rich:capRich,
  text:'{b|FIGURE 9 | }{r|Partial correlations (shading) of anomalous Walker circulation averaged over 5°S-5°N with normalized DJF CT ENSO index }{b|(A–C)}{r| and WP ENSO index}'}});
graphics.push({type:'text',z:5,silent:true,style:{x:25,y:1245,textVerticalAlign:'middle',rich:capRich,
  text:'{b|(D–F)}{r| for SON0, DJF0 and MAM1. Light (Heavy) Shades indicate correlations above the 90% (95%) confidence levels.}'}});

const chart=echarts.init(document.getElementById('c'),null,{renderer:'canvas',width:1355,height:1259});
chart.setOption({animation:false,backgroundColor:'#fff',title:titles,grid:grids,xAxis:xAxes,yAxis:yAxes,series:series,graphic:{elements:graphics}});
</script></body></html>
